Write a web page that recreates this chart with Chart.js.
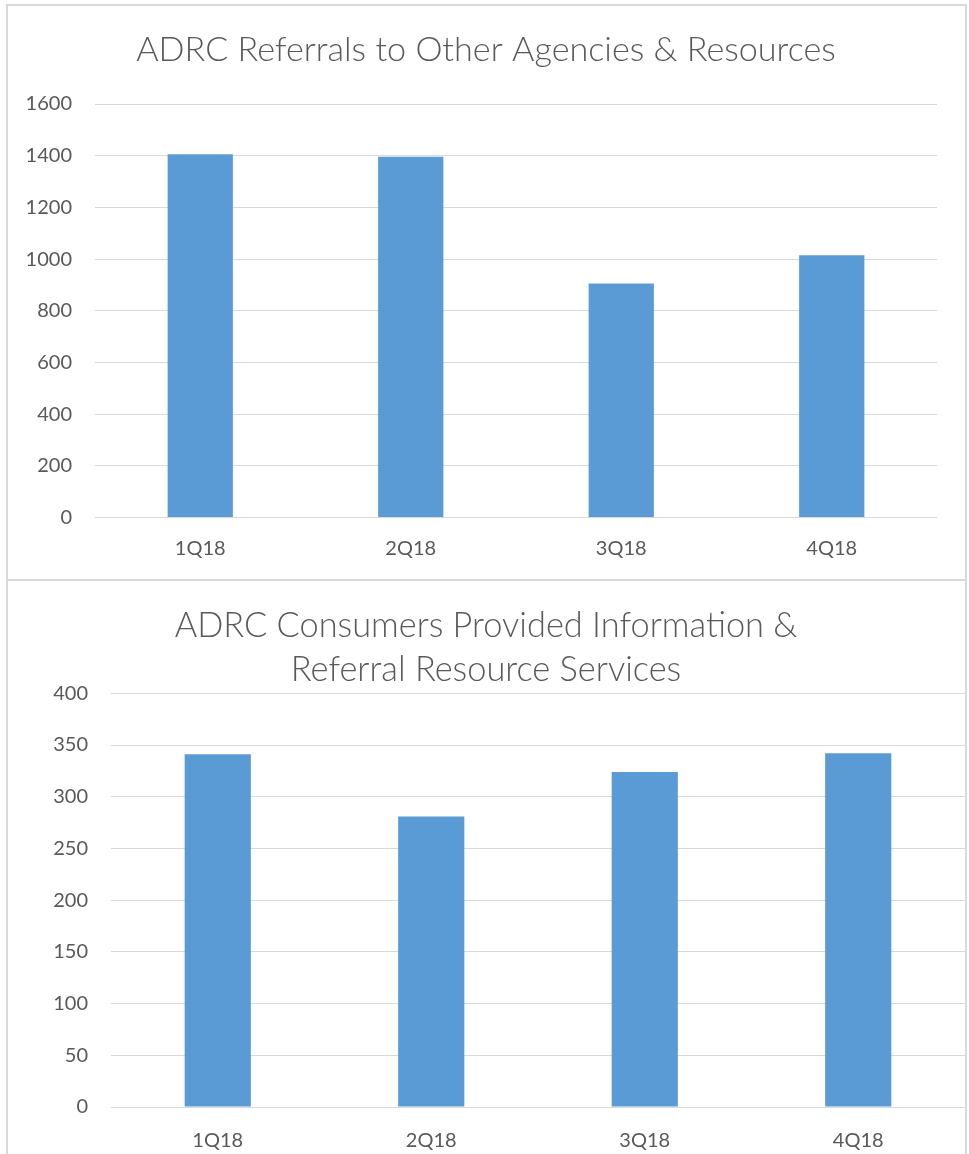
<!DOCTYPE html>
<html><head><meta charset="utf-8">
<script src="https://cdn.jsdelivr.net/npm/chart.js@4.4.0/dist/chart.umd.min.js"></script>
<style>
html,body{margin:0;padding:0;background:#fff;}
body{width:969px;height:1154px;position:relative;overflow:hidden;}
.frame{position:absolute;border:2px solid #d9d9d9;box-sizing:border-box;}
.box{position:absolute;}
</style></head><body>
<div class="frame" style="left:6px;top:4px;width:961px;height:1200px;"></div>
<div style="position:absolute;left:6px;top:579px;width:961px;height:0;border-top:2px solid #d9d9d9"></div>
<div class="box" style="left:7px;top:5px;width:958px;height:575px"><canvas id="c1"></canvas></div>
<div class="box" style="left:7px;top:580px;width:958px;height:574px"><canvas id="c2"></canvas></div>
<script>
const categories = ['1Q18', '2Q18', '3Q18', '4Q18'];
const referrals = [1406, 1396, 906, 1015];
const consumers = [341, 281, 324, 342];
const referralAxis = { min: 0, max: 1600, step: 200 };
const consumerAxis = { min: 0, max: 400, step: 50 };
const title1 = 'ADRC Referrals to Other Agencies & Resources';
const title2 = ['ADRC Consumers Provided Information &', 'Referral Resource Services'];

const FAMILY = 'Lato, "Open Sans", "Liberation Sans", sans-serif';
const TEXT = '#595959';
const GRID = '#d9d9d9';
const BAR = '#5B9BD5';

function fitSize(text, target, weight) {
  const c = document.createElement('canvas').getContext('2d');
  c.font = weight + ' 100px ' + FAMILY;
  return 100 * target / c.measureText(text).width;
}

function makeChart(id, values, axis, titleText, o) {
  return new Chart(document.getElementById(id), {
    type: 'bar',
    data: { labels: categories, datasets: [{ data: values, backgroundColor: BAR, borderWidth: 0,
      barPercentage: 0.31, categoryPercentage: 1 }] },
    options: {
      responsive: true, maintainAspectRatio: false, animation: false,
      layout: { padding: 0 },
      plugins: {
        legend: { display: false }, tooltip: { enabled: false },
        title: { display: true, text: titleText, color: TEXT,
          font: { family: FAMILY, size: o.tsize, weight: '300', lineHeight: o.tlh },
          padding: { top: o.tpadTop, bottom: o.tpadBottom } }
      },
      scales: {
        x: { grid: { display: false }, border: { display: false },
          ticks: { color: TEXT, font: { family: FAMILY, size: 20 }, padding: o.xpad },
          afterFit: s => { s.height = o.xh; } },
        y: { min: axis.min, max: axis.max,
          grid: { color: GRID, lineWidth: 1, drawTicks: false }, border: { display: false },
          ticks: { stepSize: axis.step, color: TEXT, font: { family: FAMILY, size: 20 }, padding: 23,
            callback: v => String(v) },
          afterFit: s => { s.width = o.yw; } },
        spacer: { type: 'linear', position: 'right', display: o.right > 0,
          grid: { display: false }, border: { display: false }, ticks: { display: false },
          afterFit: s => { s.width = o.right; } }
      }
    }
  });
}

const s1 = fitSize(title1, 700, '300');
makeChart('c1', referrals, referralAxis, title1, {
  right: 28, tsize: s1, tlh: 1.2, tpadTop: 45 - 0.6 * s1, tpadBottom: 54 - 0.6 * s1,
  xpad: 11, xh: 62.4, yw: 88
});
const s2 = fitSize(title2[0], 623, '300');
makeChart('c2', consumers, consumerAxis, title2, {
  right: 0, tsize: s2, tlh: 44 / s2, tpadTop: 24, tpadBottom: 1.3,
  xpad: 14, xh: 47, yw: 104
});
</script>
</body></html>
